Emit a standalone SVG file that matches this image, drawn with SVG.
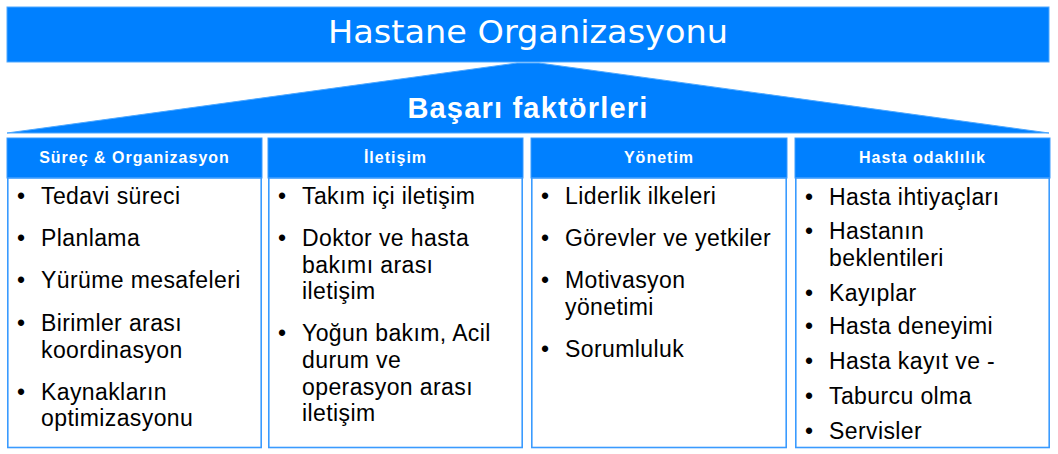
<svg xmlns="http://www.w3.org/2000/svg" width="1058" height="454" viewBox="0 0 1058 454">
<style>
.band{fill:#0080ff;stroke:#4ea8ff;stroke-width:1}
.hdr{fill:#0080ff;stroke:#3a9bff;stroke-width:1}
.body{fill:#ffffff;stroke:#3a9bff;stroke-width:1.6}
.title{font-family:"DejaVu Sans","Open Sans",sans-serif;font-size:32px;fill:#ffffff;text-anchor:middle}
.sub{font-family:"Liberation Sans",Arial,sans-serif;font-weight:bold;font-size:29px;fill:#ffffff;text-anchor:middle;letter-spacing:1.2px}
.ht{font-family:"Liberation Sans",Arial,sans-serif;font-weight:bold;font-size:16px;fill:#ffffff;text-anchor:middle;letter-spacing:1px}
.it{font-family:"Liberation Sans",Arial,sans-serif;font-size:23px;fill:#000000;letter-spacing:0.4px}
</style>
<g id="banner">
<rect class="band" x="7" y="7" width="1042" height="55"/>
<text class="title" x="528" y="43" textLength="400" lengthAdjust="spacingAndGlyphs">Hastane Organizasyonu</text>
</g>
<g id="roof">
<polygon class="band" points="7,133 517,63 539,63 1049,133"/>
<text class="sub" x="528" y="118">Başarı faktörleri</text>
</g>
<g id="col1">
<rect class="hdr" x="7" y="138" width="255" height="40"/>
<text class="ht" x="134.5" y="163">Süreç &amp; Organizasyon</text>
<rect class="body" x="7.8" y="178" width="253.4" height="269.5"/>
<g class="it">
<text x="17" y="204">•</text><text x="41" y="204">Tedavi süreci</text>
<text x="17" y="246">•</text><text x="41" y="246">Planlama</text>
<text x="17" y="288">•</text><text x="41" y="288">Yürüme mesafeleri</text>
<text x="17" y="331">•</text><text x="41" y="331">Birimler arası</text>
<text x="41" y="358">koordinasyon</text>
<text x="17" y="400">•</text><text x="41" y="400">Kaynakların</text>
<text x="41" y="426">optimizasyonu</text>
</g>
</g>
<g id="col2">
<rect class="hdr" x="268" y="138" width="255" height="40"/>
<text class="ht" x="395.5" y="163">İletişim</text>
<rect class="body" x="268.8" y="178" width="253.4" height="269.5"/>
<g class="it">
<text x="278" y="204">•</text><text x="302" y="204">Takım içi iletişim</text>
<text x="278" y="246">•</text><text x="302" y="246">Doktor ve hasta</text>
<text x="302" y="272.5">bakımı arası</text>
<text x="302" y="299">iletişim</text>
<text x="278" y="341">•</text><text x="302" y="341">Yoğun bakım, Acil</text>
<text x="302" y="368">durum ve</text>
<text x="302" y="394.5">operasyon arası</text>
<text x="302" y="421">iletişim</text>
</g>
</g>
<g id="col3">
<rect class="hdr" x="531" y="138" width="256" height="40"/>
<text class="ht" x="659" y="163">Yönetim</text>
<rect class="body" x="531.8" y="178" width="254.4" height="269.5"/>
<g class="it">
<text x="541" y="204">•</text><text x="565" y="204">Liderlik ilkeleri</text>
<text x="541" y="246">•</text><text x="565" y="246">Görevler ve yetkiler</text>
<text x="541" y="288">•</text><text x="565" y="288">Motivasyon</text>
<text x="565" y="315">yönetimi</text>
<text x="541" y="357">•</text><text x="565" y="357">Sorumluluk</text>
</g>
</g>
<g id="col4">
<rect class="hdr" x="795" y="138" width="255" height="40"/>
<text class="ht" x="922.5" y="163">Hasta odaklılık</text>
<rect class="body" x="795.8" y="178" width="253.4" height="269.5"/>
<g class="it">
<text x="805" y="205">•</text><text x="829" y="205">Hasta ihtiyaçları</text>
<text x="805" y="239">•</text><text x="829" y="239">Hastanın</text>
<text x="829" y="266">beklentileri</text>
<text x="805" y="301">•</text><text x="829" y="301">Kayıplar</text>
<text x="805" y="334">•</text><text x="829" y="334">Hasta deneyimi</text>
<text x="805" y="369">•</text><text x="829" y="369">Hasta kayıt ve -</text>
<text x="805" y="404">•</text><text x="829" y="404">Taburcu olma</text>
<text x="805" y="439">•</text><text x="829" y="439">Servisler</text>
</g>
</g>
</svg>
